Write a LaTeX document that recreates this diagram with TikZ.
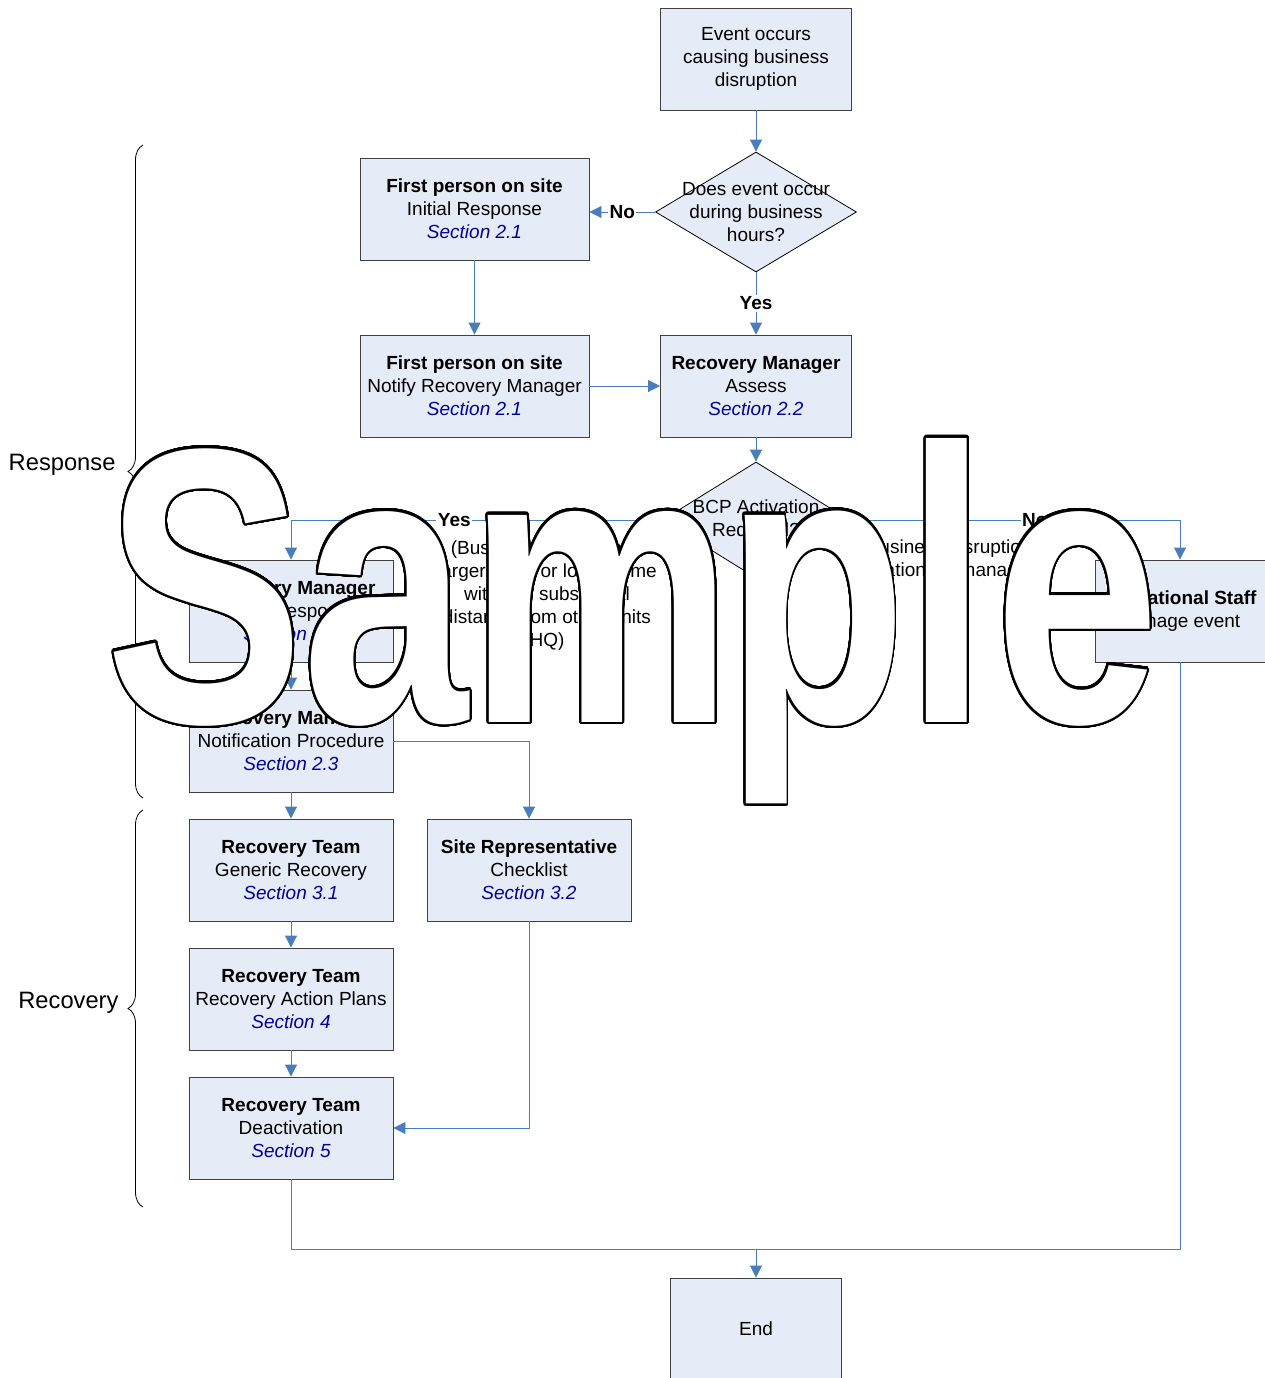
\documentclass[tikz,border=0pt]{standalone}
\usepackage{fontspec}
\setmainfont{Liberation Sans}
\usepackage[copies]{contour}
\contourlength{2.6pt}
\contournumber{48}
\usetikzlibrary{shapes.geometric,arrows.meta,decorations.pathreplacing}
\definecolor{boxfill}{RGB}{230,236,247}
\definecolor{boxline}{RGB}{64,64,64}
\definecolor{connc}{RGB}{74,126,187}
\definecolor{secblue}{RGB}{0,0,153}
\newcommand\bt[3]{\textbf{#1}\\#2\\{\color{secblue}\itshape #3}}
\newcommand\samplechar[1]{\scalebox{0.76}[1]{\fontsize{392}{392}\selectfont\bfseries\color{white}\contour{black}{#1}}}
\begin{document}
\begin{tikzpicture}[x=1pt,y=-1pt,
  font=\fontsize{19}{23}\selectfont,
  box/.style={draw=boxline, fill=boxfill, line width=0.9pt, align=center, minimum height=102, inner sep=2},
  dia/.style={diamond, draw=black, fill=boxfill, line width=0.8pt, inner sep=0},
  dtext/.style={align=center, inner sep=0},
  conn/.style={draw=connc, line width=0.9pt},
  arr/.style={-{Triangle[length=12pt,width=12pt]}},
  lbl/.style={font=\fontsize{19}{23}\selectfont\bfseries, fill=white, inner sep=1.5},
  anno/.style={align=center, inner sep=0},
  sidelbl/.style={anchor=east, font=\fontsize{23.7}{26}\selectfont},
  bracestyle/.style={draw=black, line width=0.8pt, decorate, decoration={brace, amplitude=15pt}},
  letter/.style={inner sep=0, anchor=base}
]
\useasboundingbox (0,0) rectangle (1265,1378);
\clip (0,0) rectangle (1265,1378);

% boxes
\node[box, minimum width=191] (event) at (756,59) {Event occurs\\causing business\\disruption};
\node[dia, minimum width=201, minimum height=120] (d1) at (756,212) {};
\node[dtext] (d1t) at (d1) {Does event occur\\during business\\hours?};
\node[box, minimum width=229] (fp1) at (474.5,209) {\bt{First person on site}{Initial Response}{Section 2.1}};
\node[box, minimum width=229] (fp2) at (474.5,386) {\bt{First person on site}{Notify Recovery Manager}{Section 2.1}};
\node[box, minimum width=191] (rma) at (756,386) {\bt{Recovery Manager}{Assess}{Section 2.2}};
\node[dia, minimum width=187, minimum height=116] (d2) at (756,520) {};
\node[dtext] (d2t) at (756,520) {BCP Activation\\Required?};
\node[box, minimum width=204] (rmr) at (291,611) {\bt{Recovery Manager}{Initial Response}{Section 2.2}};
\node[box, minimum width=170, align=center] (ops) at (1180,611) {\textbf{Operational Staff}\\Manage event};
\node[box, minimum width=204] (rmn) at (291,741) {\bt{Recovery Manager}{Notification Procedure}{Section 2.3}};
\node[box, minimum width=204] (rtg) at (291,870) {\bt{Recovery Team}{Generic Recovery}{Section 3.1}};
\node[box, minimum width=204] (srep) at (529,870) {\bt{Site Representative}{Checklist}{Section 3.2}};
\node[box, minimum width=204] (rap) at (291,999) {\bt{Recovery Team}{Recovery Action Plans}{Section 4}};
\node[box, minimum width=204] (deact) at (291,1128) {\bt{Recovery Team}{Deactivation}{Section 5}};
\node[box, minimum width=171] (end) at (756,1329) {End};

% connectors
\draw[conn,arr] (event.south) -- (d1.north);
\draw[conn,arr] (d1.west) -- node[lbl]{No} (d1.west -| fp1.east);
\draw[conn,arr] (d1.south) -- node[lbl]{Yes} (rma.north);
\draw[conn,arr] (fp1.south) -- (fp2.north);
\draw[conn,arr] (fp2.east) -- (rma.west);
\draw[conn,arr] (rma.south) -- (d2.north);
\draw[conn,arr] (d2.west) -| node[lbl, pos=0.28]{Yes} (rmr.north);
\draw[conn,arr] (d2.east) -| node[lbl, pos=0.28]{No} (ops.north);
\draw[conn,arr] (rmr.south) -- (rmn.north);
\draw[conn,arr] (rmn.east) -| (srep.north);
\draw[conn,arr] (rmn.south) -- (rtg.north);
\draw[conn,arr] (rtg.south) -- (rap.north);
\draw[conn,arr] (rap.south) -- (deact.north);
\draw[conn,arr] (srep.south) |- (deact.east);
\coordinate (j) at (756,1249);
\draw[conn] (deact.south) |- (j) -| (ops.south);
\draw[conn,arr] (j) -- (end.north);

% annotations
\node[anno] (ann1) at (547,596) {(Business disruption at\\larger scale or longer time\\with any substantial\\distance from other units\\HQ)};
\node[anno] (ann2) at (946,560) {(Business disruption\\operationally managed)};

% braces
\draw[bracestyle] (143,798) -- (143,145);
\node[sidelbl] (resp) at (119,465) {Response};
\draw[bracestyle] (143,1207) -- (143,810);
\node[sidelbl] (reco) at (122,1003) {Recovery};

% watermark
\node[letter] (wS) at (205,722) {\samplechar{S}};
\node[letter] (wa) at (385,722) {\samplechar{a}};
\node[letter] (wm) at (601,722) {\samplechar{m}};
\node[letter] (wp) at (816,722) {\samplechar{p}};
\node[letter] (wl) at (947,722) {\samplechar{l}};
\node[letter] (we) at (1077,722) {\samplechar{e}};
\end{tikzpicture}
\end{document}
